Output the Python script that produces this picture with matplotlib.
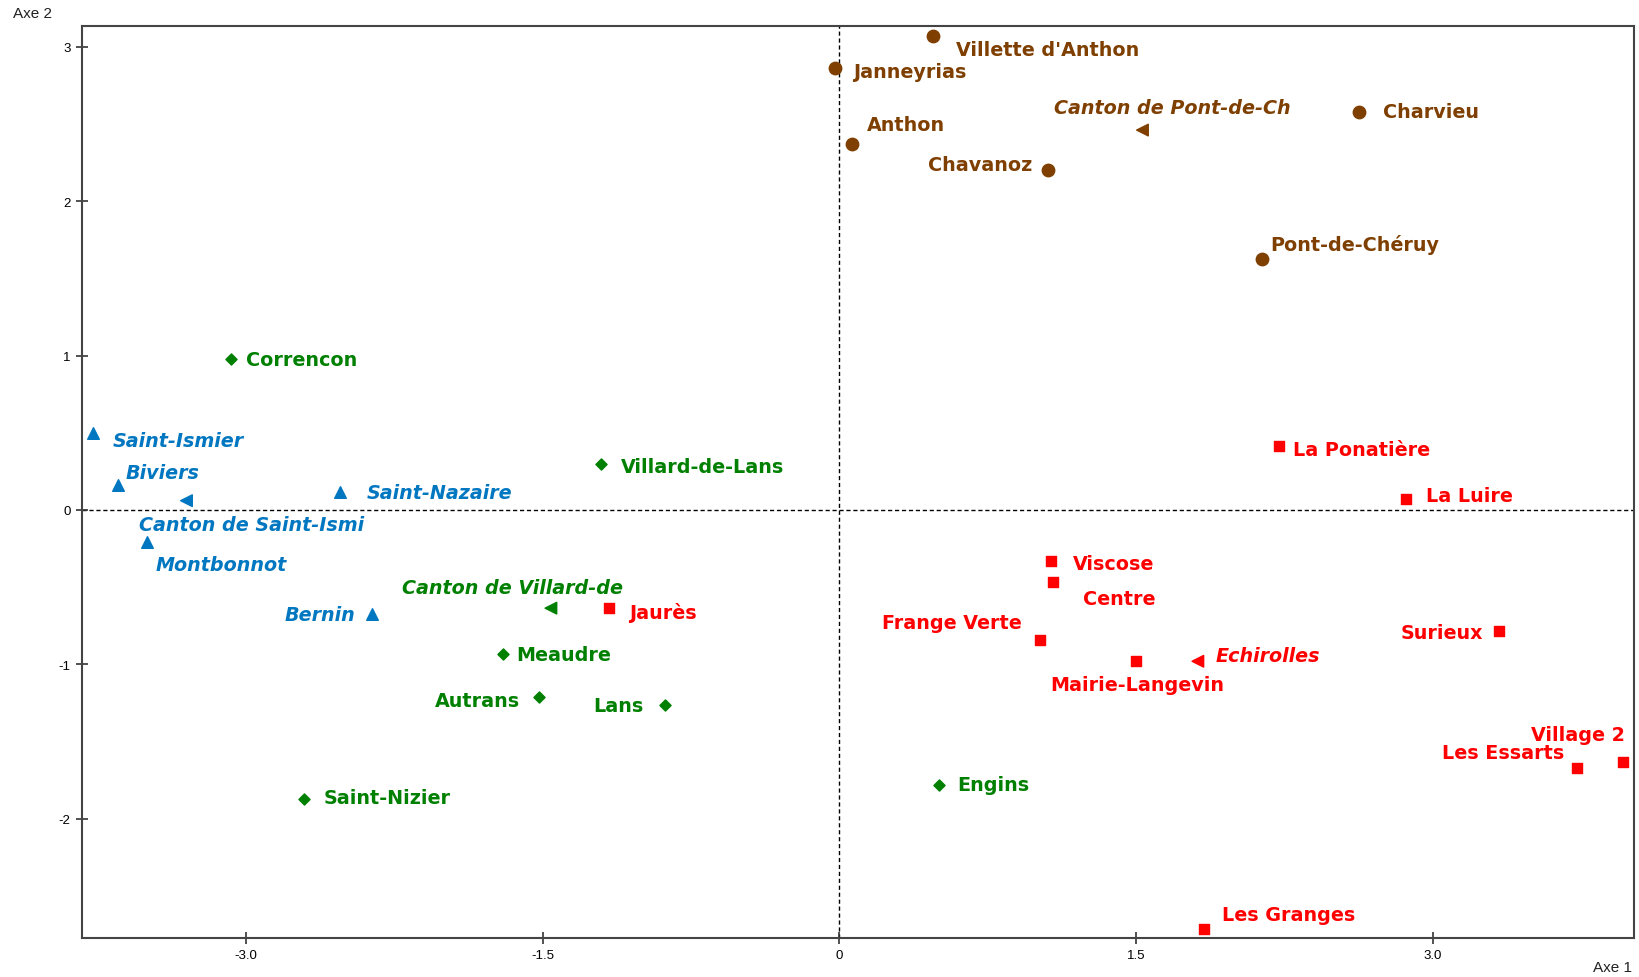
import matplotlib
matplotlib.use("Agg")
import matplotlib.pyplot as plt

# === DATA ===
brown_names = ["Villette d'Anthon", "Janneyrias", "Anthon", "Chavanoz", "Charvieu", "Pont-de-Chéruy"]
brown_x = [0.475, -0.02, 0.063, 1.057, 2.625, 2.134]
brown_y = [3.07, 2.86, 2.37, 2.20, 2.58, 1.625]

green_names = ["Correncon", "Villard-de-Lans", "Meaudre", "Autrans", "Lans", "Saint-Nizier", "Engins"]
green_x = [-3.074, -1.204, -1.70, -1.516, -0.882, -2.705, 0.502]
green_y = [0.98, 0.30, -0.934, -1.21, -1.266, -1.875, -1.78]

blue_names = ["Saint-Ismier", "Biviers", "Montbonnot", "Saint-Nazaire", "Bernin"]
blue_x = [-3.77, -3.645, -3.50, -2.525, -2.36]
blue_y = [0.50, 0.16, -0.21, 0.115, -0.677]

red_names = ["Jaurès", "La Ponatière", "La Luire", "Viscose", "Centre", "Frange Verte",
             "Mairie-Langevin", "Surieux", "Les Essarts", "Village 2", "Les Granges"]
red_x = [-1.162, 2.224, 2.863, 1.072, 1.078, 1.014, 1.50, 3.333, 3.73, 3.962, 1.844]
red_y = [-0.636, 0.413, 0.074, -0.332, -0.467, -0.84, -0.98, -0.785, -1.672, -1.63, -2.715]

canton_names = ["Canton de Pont-de-Ch", "Canton de Villard-de", "Canton de Saint-Ismi", "Echirolles"]
canton_x = [1.532, -1.458, -3.30, 1.812]
canton_y = [2.46, -0.636, 0.06, -0.98]

x_ticks = [-3.0, -1.5, 0, 1.5, 3.0]
x_ticklabels = ["-3.0", "-1.5", "0", "1.5", "3.0"]
y_ticks = [-2, -1, 0, 1, 2, 3]
y_ticklabels = ["-2", "-1", "0", "1", "2", "3"]

# === STYLE ===
BROWN = "#7f3f00"
GREEN = "#008000"
BLUE = "#0077c0"
RED = "#ff0000"
canton_colors = [BROWN, GREEN, BLUE, RED]

# label offsets in pixels (dx, dy, ha)
OFFSETS = {
    "Villette d'Anthon": (23, -14, "left"),
    "Janneyrias": (18, -3, "left"),
    "Anthon": (15, 19, "left"),
    "Chavanoz": (-16, 6, "right"),
    "Charvieu": (24, 0, "left"),
    "Pont-de-Chéruy": (9, 15, "left"),
    "Canton de Pont-de-Ch": (-88, 23, "left"),
    "Correncon": (15, -1, "left"),
    "Villard-de-Lans": (20, -3, "left"),
    "Canton de Villard-de": (-149, 21, "left"),
    "Meaudre": (13, 0, "left"),
    "Autrans": (-19, -4, "right"),
    "Lans": (-21, 0, "right"),
    "Saint-Nizier": (19, 2, "left"),
    "Engins": (19, 0, "left"),
    "Saint-Ismier": (19, -8, "left"),
    "Biviers": (7, 13, "left"),
    "Canton de Saint-Ismi": (-47, -24, "left"),
    "Montbonnot": (9, -22, "left"),
    "Saint-Nazaire": (27, 0, "left"),
    "Bernin": (-17, 0, "right"),
    "Jaurès": (20, -4, "left"),
    "La Ponatière": (14, -3, "left"),
    "La Luire": (20, 3, "left"),
    "Viscose": (21, -2, "left"),
    "Centre": (30, -16, "left"),
    "Frange Verte": (-18, 17, "right"),
    "Mairie-Langevin": (-86, -23, "left"),
    "Echirolles": (18, 6, "left"),
    "Surieux": (-16, -1, "right"),
    "Les Essarts": (-13, 16, "right"),
    "Village 2": (2, 27, "right"),
    "Les Granges": (18, 15, "left"),
}

plt.rcParams["font.family"] = ["Liberation Sans", "DejaVu Sans"]

fig = plt.figure(figsize=(16.39, 9.78), dpi=100)
ax = fig.add_axes([0.0498, 0.0402, 0.997 - 0.0498, 0.9724 - 0.0402])

ax.axhline(0, color="black", lw=1, ls=(0, (3, 2)), zorder=1)
ax.axvline(0, color="black", lw=1, ls=(0, (3, 2)), zorder=1)


def label(names, xs, ys, color, italic=False):
    for n, x, y in zip(names, xs, ys):
        dx, dy, ha = OFFSETS[n]
        ax.annotate(n, (x, y), xytext=(dx, dy), textcoords="offset pixels",
                    ha=ha, va="center", color=color, fontsize=13.8, fontweight="bold",
                    family="DejaVu Sans",
                    fontstyle="italic" if italic else "normal", annotation_clip=False)


ax.scatter(brown_x, brown_y, marker="o", s=80, color=BROWN, zorder=3)
ax.scatter(green_x, green_y, marker="D", s=32, color=GREEN, zorder=3)
ax.scatter(blue_x, blue_y, marker="^", s=70, color=BLUE, zorder=3)
ax.scatter(red_x, red_y, marker="s", s=60, color=RED, zorder=3)
ax.scatter(canton_x, canton_y, marker="<", s=70, color=canton_colors, zorder=3)

label(brown_names, brown_x, brown_y, BROWN)
label(green_names, green_x, green_y, GREEN)
label(blue_names, blue_x, blue_y, BLUE, italic=True)
label(red_names, red_x, red_y, RED)
for n, x, y, c in zip(canton_names, canton_x, canton_y, canton_colors):
    label([n], [x], [y], c, italic=True)

ax.set_xlim(-3.83, 4.017)
ax.set_ylim(-2.77, 3.134)
ax.set_xticks(x_ticks)
ax.set_xticklabels(x_ticklabels)
ax.set_yticks(y_ticks)
ax.set_yticklabels(y_ticklabels)
ax.tick_params(direction="inout", length=8, width=1.2, labelsize=9.5, color="#333333", pad=4)
for sp in ax.spines.values():
    sp.set_color("#444444")
    sp.set_linewidth(1.5)

fig.text(13 / 1639, 1 - 14 / 978, "Axe 2", ha="left", va="center", fontsize=11, color="#222222")
fig.text(1632 / 1639, 1 - 968 / 978, "Axe 1", ha="right", va="center", fontsize=11, color="#222222")

fig.savefig("out.png", dpi=100)
